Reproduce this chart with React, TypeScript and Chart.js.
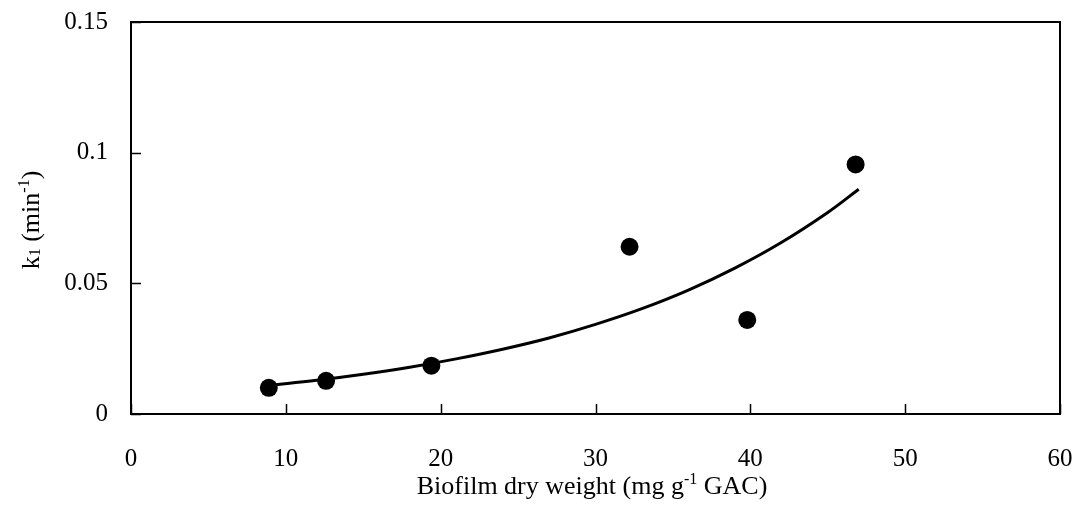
import React, { useEffect, useRef } from "react";
import { Chart, registerables } from "chart.js";

Chart.register(...registerables);

// Measured data (biofilm dry weight, mg g-1 GAC vs k1, min-1)
const biofilmWeight = [8.9, 12.6, 19.4, 32.2, 39.8, 46.8];
const k1Values = [0.0100, 0.0127, 0.0185, 0.0640, 0.0360, 0.0955];

// Trend line
const trendWeight = [9, 12, 15, 18, 21, 24, 27, 30, 33, 36, 39, 42, 45, 47];
const trendK1 = [0.0110, 0.0129, 0.0152, 0.0179, 0.0211, 0.0248, 0.0291, 0.0343, 0.0403, 0.0474, 0.0558, 0.0656, 0.0771, 0.0860];

const xTickValues = [0, 10, 20, 30, 40, 50, 60];
const yTickValues = [0, 0.05, 0.1, 0.15];
const yTickLabels = ["0", "0.05", "0.1", "0.15"];

const FONT = '"Liberation Serif", "Times New Roman", serif';

const framePlugin = {
  id: "frame",
  afterDraw(chart: any) {
    const { ctx, chartArea } = chart;
    const xs = chart.scales.x;
    const ys = chart.scales.y;
    ctx.save();
    ctx.strokeStyle = "#000";
    ctx.lineWidth = 2;
    ctx.beginPath();
    ctx.moveTo(chartArea.left, chartArea.top);
    ctx.lineTo(chartArea.right, chartArea.top);
    ctx.lineTo(chartArea.right, chartArea.bottom);
    ctx.stroke();
    // inward tick marks
    ctx.lineWidth = 1.5;
    ctx.beginPath();
    xTickValues.forEach((v) => {
      const px = Math.round(xs.getPixelForValue(v)) + 0.5;
      ctx.moveTo(px, chartArea.bottom);
      ctx.lineTo(px, chartArea.bottom - 10);
    });
    yTickValues.forEach((v) => {
      const py = Math.round(ys.getPixelForValue(v)) + 0.5;
      ctx.moveTo(chartArea.left, py);
      ctx.lineTo(chartArea.left + 10, py);
    });
    ctx.stroke();

    // axis titles with sub/superscripts
    ctx.fillStyle = "#000";
    ctx.textBaseline = "alphabetic";
    ctx.textAlign = "left";
    const big = `26px ${FONT}`;
    const small = `16px ${FONT}`;
    const measure = (parts: any[]) =>
      parts.reduce((w, p) => {
        ctx.font = p.small ? small : big;
        return w + ctx.measureText(p.t).width;
      }, 0);
    const drawParts = (parts: any[], x0: number, y0: number) => {
      let x = x0;
      parts.forEach((p) => {
        ctx.font = p.small ? small : big;
        ctx.fillText(p.t, x, y0 + (p.dy || 0));
        x += ctx.measureText(p.t).width;
      });
    };
    const xTitle = [
      { t: "Biofilm dry weight (mg g" },
      { t: "-1", small: true, dy: -10 },
      { t: " GAC)" },
    ];
    const xw = measure(xTitle);
    drawParts(xTitle, 592 - xw / 2, 494);

    const yTitle = [
      { t: "k" },
      { t: "1", small: true, dy: 1 },
      { t: " (min" },
      { t: "-1", small: true, dy: -10 },
      { t: ")" },
    ];
    const yw = measure(yTitle);
    ctx.translate(39, 220);
    ctx.rotate(-Math.PI / 2);
    drawParts(yTitle, -yw / 2, 0);
    ctx.restore();
  },
};

export default function App() {
  const canvasRef = useRef<HTMLCanvasElement | null>(null);

  useEffect(() => {
    const canvas = canvasRef.current;
    if (!canvas) return;
    const chart = new Chart(canvas, {
      type: "scatter",
      data: {
        datasets: [
          {
            label: "Trend",
            type: "line",
            data: trendWeight.map((x, i) => ({ x, y: trendK1[i] })),
            borderColor: "#000",
            borderWidth: 3,
            pointRadius: 0,
            tension: 0.4,
            fill: false,
            order: 2,
          },
          {
            label: "k1",
            data: biofilmWeight.map((x, i) => ({ x, y: k1Values[i] })),
            backgroundColor: "#000",
            borderColor: "#000",
            borderWidth: 0,
            pointRadius: 9,
            pointHoverRadius: 9,
            order: 1,
          },
        ],
      },
      options: {
        responsive: false,
        animation: false,
        events: [],
        layout: { padding: { top: 22, right: 13, left: 0, bottom: 0 } },
        plugins: {
          legend: { display: false },
          tooltip: { enabled: false },
          title: { display: false },
        },
        scales: {
          x: {
            type: "linear",
            min: 0,
            max: 60,
            afterFit: (s: any) => {
              s.height = 93;
              s.paddingLeft = 0;
              s.paddingRight = 0;
            },
            afterBuildTicks: (s: any) => {
              s.ticks = xTickValues.map((v) => ({ value: v }));
            },
            grid: { display: false, drawTicks: false },
            border: { display: true, color: "#000", width: 2 },
            ticks: {
              color: "#000",
              padding: 30,
              maxRotation: 0,
              font: { family: FONT, size: 25 },
            },
          },
          y: {
            type: "linear",
            min: 0,
            max: 0.15,
            afterFit: (s: any) => {
              s.width = 131;
              s.paddingTop = 0;
              s.paddingBottom = 0;
            },
            afterBuildTicks: (s: any) => {
              s.ticks = yTickValues.map((v) => ({ value: v }));
            },
            grid: { display: false, drawTicks: false },
            border: { display: true, color: "#000", width: 2 },
            ticks: {
              color: "#000",
              padding: 23,
              font: { family: FONT, size: 25 },
              callback: (v: any) => {
                const i = yTickValues.findIndex((t) => Math.abs(t - Number(v)) < 1e-9);
                return i >= 0 ? yTickLabels[i] : "";
              },
            },
          },
        },
      },
      plugins: [framePlugin],
    });
    return () => chart.destroy();
  }, []);

  return (
    <div style={{ position: "fixed", left: 0, top: 0, width: 1073, height: 507, background: "#fff" }}>
      <canvas ref={canvasRef} width={1073} height={507} style={{ width: 1073, height: 507 }} />
    </div>
  );
}
